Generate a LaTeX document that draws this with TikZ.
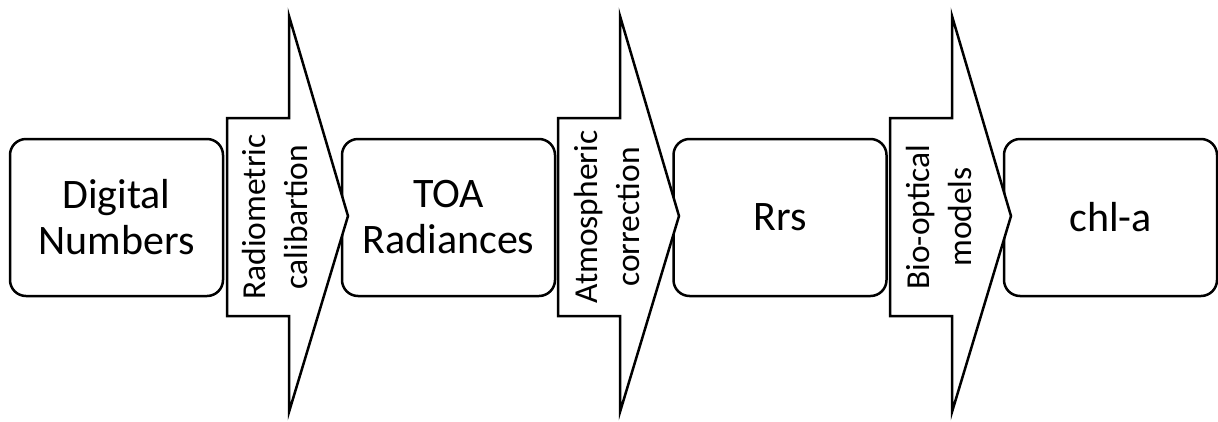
\documentclass[tikz,border=0pt]{standalone}
\usepackage{fontspec}
\setmainfont{Carlito}
\begin{document}
\begin{tikzpicture}[x=1pt,y=-1pt,
  box/.style={draw, line width=2.5pt, rounded corners=16pt, minimum width=213pt, minimum height=157pt,
              align=center, font=\fontsize{42}{46}\selectfont, fill=white, inner sep=0pt},
  flow/.style={draw, line width=2.5pt, fill=white, line join=miter},
  lbl/.style={rotate=90, align=center, font=\fontsize{33.5}{42}\selectfont, inner sep=0pt}]
\useasboundingbox (0,0) rectangle (1218,421);
\fill[white] (0,0) rectangle (1218,421);
% boxes
\node[box] (dn)  at (116.5,217.5) {Digital\\Numbers};
\node[box] (toa) at (448.5,217.5) {TOA\\Radiances};
\node[box] (rrs) at (780,217.5)   {Rrs};
\node[box] (chl) at (1110.5,217.5) {chl-a};
% process arrows
\foreach \n/\xs in {a1/227, a2/558, a3/890}{
  \begin{scope}[xshift=\xs pt]
    \draw[flow] (0,118) -- (62,118) -- (62,16) -- (121,216) -- (62,412) -- (62,316) -- (0,316) -- cycle;
  \end{scope}
}
\node[lbl] (l1) at (275,217) {Radiometric\\calibartion};
\node[lbl] (l2) at (607,217) {Atmospheric\\correction};
\node[lbl] (l3) at (939,217) {Bio-optical\\models};
\end{tikzpicture}
\end{document}
